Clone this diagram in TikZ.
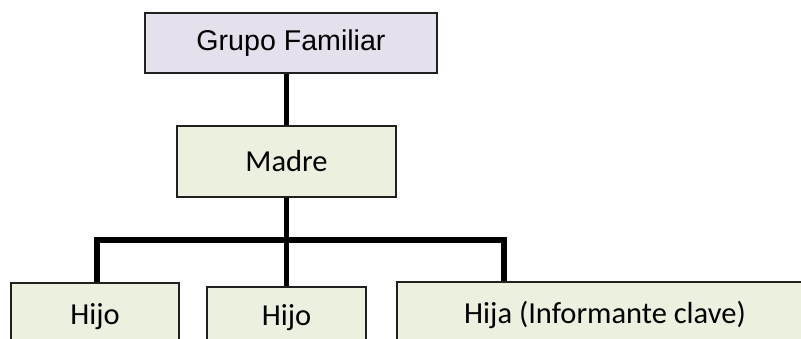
\documentclass[tikz,border=0pt]{standalone}
\usepackage{fontspec}
\setmainfont{Carlito}
\newfontfamily\arialfont{Liberation Sans}
\definecolor{lav}{HTML}{E5E0EC}
\definecolor{pale}{HTML}{EBF1DE}
\definecolor{edge}{HTML}{202020}
\begin{document}
\begin{tikzpicture}[x=1pt,y=-1pt,
  boxst/.style={draw=edge,line width=1.5pt,fill=pale,inner sep=0pt,font=\fontsize{30.5}{36}\selectfont},
  link/.style={line width=5.5pt,black,line join=miter}]
\useasboundingbox (0,0) rectangle (801,338);
\clip (0,0) rectangle (801,338);
\node[boxst,fill=lav,minimum width=292pt,minimum height=60pt,font=\arialfont\fontsize{28.6}{34}\selectfont] (grupo) at (291,43) {Grupo Familiar};
\node[boxst,minimum width=219pt,minimum height=71pt] (madre) at (286.5,161.5) {Madre};
\node[boxst,minimum width=168pt,minimum height=68pt] (hijo1) at (95,317) {Hijo};
\node[boxst,minimum width=159pt,minimum height=62pt] (hijo2) at (286.5,318) {Hijo};
\node[boxst,minimum width=416pt,minimum height=66pt] (hija) at (605,315) {Hija (Informante clave)};
\coordinate (busL) at (97,240);
\coordinate (busR) at (504,240);
\draw[link] (madre.north) -- (madre.north |- grupo.south);
\draw[link] (madre.south) -- (hijo2.north);
\draw[link] (hijo1.north -| busL) -- (busL) -- (busR) -- (hija.north -| busR);
\end{tikzpicture}
\end{document}
